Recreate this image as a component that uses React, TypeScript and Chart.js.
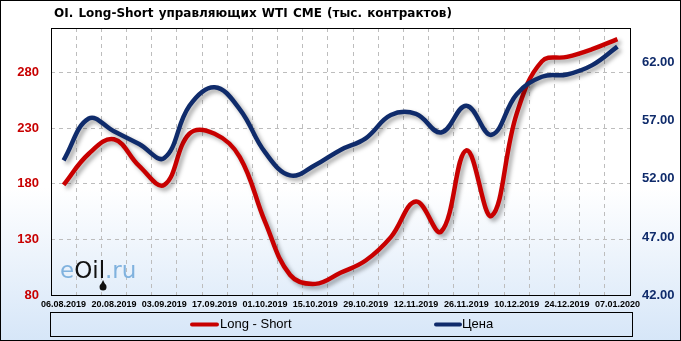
import React, { useEffect, useRef } from 'react';
import { Chart, registerables } from 'chart.js';

Chart.register(...registerables);

const categories = [
  '06.08.2019', '13.08.2019', '20.08.2019', '27.08.2019', '03.09.2019', '10.09.2019',
  '17.09.2019', '24.09.2019', '01.10.2019', '08.10.2019', '15.10.2019', '22.10.2019',
  '29.10.2019', '05.11.2019', '12.11.2019', '19.11.2019', '26.11.2019', '03.12.2019',
  '10.12.2019', '17.12.2019', '24.12.2019', '31.12.2019', '07.01.2020',
];

const longShort = [179, 207, 220, 196, 179, 225, 225, 204, 146, 98, 90, 100, 111, 132, 164, 137, 210, 151, 243, 290, 294, 301, 310];
const price = [53.6, 57.2, 56.1, 55.0, 53.8, 58.3, 59.9, 58.0, 54.3, 52.3, 53.2, 54.5, 55.5, 57.5, 57.6, 56.0, 58.3, 55.8, 59.3, 60.8, 61.0, 61.8, 63.4];

const leftTicks = [80, 130, 180, 230, 280];
const rightTicks = [42, 47, 52, 57, 62];

const TITLE = 'OI. Long-Short управляющих WTI CME (тыс. контрактов)';
const LEGEND_LS = 'Long - Short';
const LEGEND_PRICE = 'Цена';

const RED = '#c80000';
const NAVY = '#0f2b6b';
const FONT = '"Liberation Sans", Arial, sans-serif';
const DJ = '"DejaVu Sans", sans-serif';

const decorPlugin = {
  id: 'decor',
  beforeDraw(chart: any) {
    const { ctx, width, height } = chart;
    ctx.save();
    const g = ctx.createLinearGradient(0, 0, 0, height);
    g.addColorStop(0, '#ffffff');
    g.addColorStop(0.55, '#ffffff');
    g.addColorStop(1, '#d6e6f8');
    ctx.fillStyle = g;
    ctx.fillRect(0, 0, width, height);
    ctx.restore();
  },
  beforeDatasetsDraw(chart: any) {
    const { ctx, chartArea } = chart;
    ctx.save();
    const x = chartArea.left + 9;
    const y = chartArea.bottom - 17;
    ctx.font = `23px ${DJ}`;
    ctx.textBaseline = 'alphabetic';
    ctx.textAlign = 'left';
    ctx.fillStyle = '#80b2de';
    ctx.fillText('e', x, y);
    const w = ctx.measureText('e').width;
    ctx.fillStyle = '#111111';
    ctx.fillText('Oil', x + w, y);
    const w2 = ctx.measureText('Oil').width;
    ctx.fillStyle = '#80b2de';
    ctx.fillText('.ru', x + w + w2, y);
    ctx.fillStyle = '#111111';
    ctx.beginPath();
    ctx.arc(x + w + w2 - 2, y + 9, 3.5, 0, Math.PI * 2);
    ctx.fill();
    ctx.beginPath();
    ctx.moveTo(x + w + w2 - 5, y + 8);
    ctx.lineTo(x + w + w2 - 2, y + 2);
    ctx.lineTo(x + w + w2 + 1, y + 8);
    ctx.fill();
    ctx.restore();
  },
  beforeDatasetDraw(chart: any) {
    const { ctx } = chart;
    ctx.save();
    ctx.shadowColor = 'rgba(0,0,0,0.35)';
    ctx.shadowOffsetX = 3;
    ctx.shadowOffsetY = 3;
    ctx.shadowBlur = 4;
  },
  afterDatasetDraw(chart: any) {
    chart.ctx.restore();
  },
  afterDraw(chart: any) {
    const { ctx, chartArea, width, height } = chart;
    ctx.save();
    ctx.strokeStyle = '#000000';
    ctx.lineWidth = 1;
    ctx.strokeRect(Math.round(chartArea.left) + 0.5, Math.round(chartArea.top) + 0.5,
      Math.round(chartArea.right - chartArea.left), Math.round(chartArea.bottom - chartArea.top));
    ctx.strokeRect(0.5, 0.5, width - 1, height - 1);
    ctx.fillStyle = '#000000';
    ctx.font = `bold 12px ${DJ}`;
    ctx.textAlign = 'left';
    ctx.textBaseline = 'middle';
    try { (ctx as any).wordSpacing = '1px'; } catch (e) { /* ignore */ }
    ctx.fillText(TITLE, 54, 14);
    try { (ctx as any).wordSpacing = '0px'; } catch (e) { /* ignore */ }
    const lx = 50, ly = 312, lw = 582, lh = 24;
    ctx.strokeRect(lx + 0.5, ly + 0.5, lw, lh);
    const cy = ly + lh / 2 + 0.5;
    ctx.lineWidth = 4;
    ctx.lineCap = 'round';
    ctx.strokeStyle = RED;
    ctx.beginPath();
    ctx.moveTo(192, cy);
    ctx.lineTo(217, cy);
    ctx.stroke();
    ctx.strokeStyle = NAVY;
    ctx.beginPath();
    ctx.moveTo(436, cy);
    ctx.lineTo(460, cy);
    ctx.stroke();
    ctx.font = `13px ${FONT}`;
    ctx.fillStyle = '#000000';
    ctx.fillText(LEGEND_LS, 220, cy);
    ctx.fillText(LEGEND_PRICE, 462, cy);
    ctx.restore();
  },
};

export default function App() {
  const ref = useRef<HTMLCanvasElement | null>(null);
  useEffect(() => {
    document.body.style.margin = '0';
    const canvas = ref.current;
    if (!canvas) return;
    const chart = new Chart(canvas, {
      type: 'line',
      data: {
        labels: categories,
        datasets: [
          {
            label: LEGEND_PRICE,
            data: price,
            yAxisID: 'y1',
            borderColor: NAVY,
            borderWidth: 4.5,
            pointRadius: 0,
            tension: 0.4,
            fill: false,
            order: 0,
          },
          {
            label: LEGEND_LS,
            data: longShort,
            yAxisID: 'y',
            borderColor: RED,
            borderWidth: 4.5,
            pointRadius: 0,
            tension: 0.4,
            fill: false,
            order: 1,
          },
        ],
      },
      options: {
        responsive: false,
        animation: false,
        devicePixelRatio: 1,
        layout: { padding: { top: 28, bottom: 30, left: 0, right: 0 } },
        plugins: {
          legend: { display: false },
          title: { display: false },
          tooltip: { enabled: false },
        },
        scales: {
          x: {
            type: 'category',
            offset: true,
            grid: { offset: true, color: '#bdbdbd', lineWidth: 1, drawTicks: false },
            border: { display: false, dash: [4, 4] },
            ticks: {
              autoSkip: false,
              maxRotation: 0,
              minRotation: 0,
              padding: 4,
              color: '#000000',
              font: { family: FONT, size: 9, weight: 'bold' },
              callback: (_v: any, i: number) => (i % 2 === 0 ? categories[i] : ''),
            },
            afterFit: (s: any) => { s.height = 16; },
          },
          y: {
            position: 'left',
            min: 80,
            max: 320,
            grid: { color: '#bdbdbd', lineWidth: 1, drawTicks: false },
            border: { display: false, dash: [4, 4] },
            afterBuildTicks: (s: any) => { s.ticks = leftTicks.map((v) => ({ value: v })); },
            ticks: {
              padding: 12,
              color: RED,
              font: { family: FONT, size: 13, weight: 'bold' },
            },
            afterFit: (s: any) => { s.width = 51; },
          },
          y1: {
            position: 'right',
            min: 42,
            max: 65,
            grid: { display: false, drawTicks: false },
            border: { display: false },
            afterBuildTicks: (s: any) => { s.ticks = rightTicks.map((v) => ({ value: v })); },
            ticks: {
              padding: 12,
              color: NAVY,
              font: { family: FONT, size: 13, weight: 'bold' },
              callback: (v: any) => Number(v).toFixed(2),
            },
            afterFit: (s: any) => { s.width = 51; },
          },
        },
      },
      plugins: [decorPlugin],
    } as any);
    return () => chart.destroy();
  }, []);
  return (
    <div style={{ width: 681, height: 341 }}>
      <canvas ref={ref} width={681} height={341} style={{ display: 'block' }} />
    </div>
  );
}
